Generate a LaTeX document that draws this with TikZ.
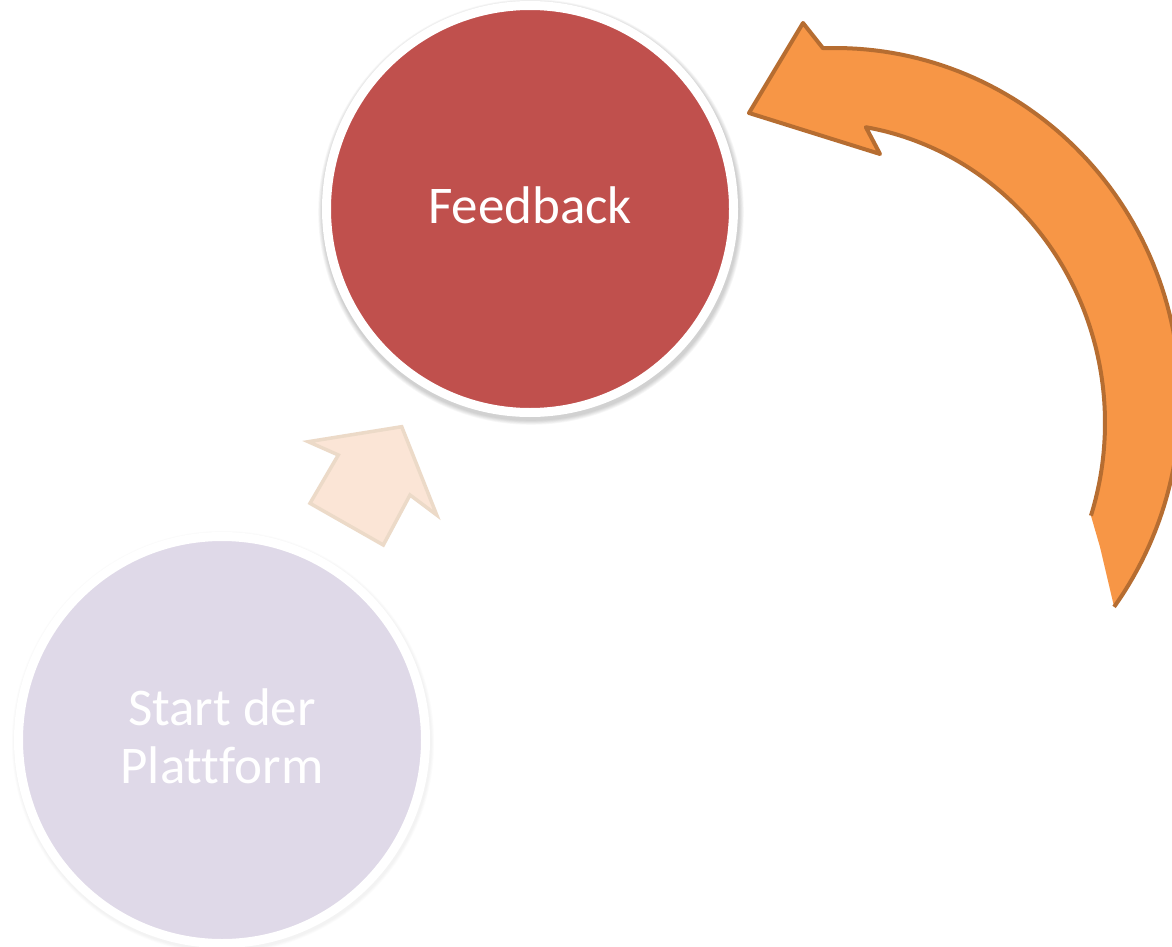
\documentclass[tikz,border=0pt]{standalone}
\usepackage{fontspec}
\setmainfont{Carlito}[RawFeature=-liga]
\definecolor{fbred}{RGB}{192,80,77}
\definecolor{lavender}{RGB}{223,217,232}
\definecolor{peachfill}{RGB}{251,229,214}
\definecolor{peachedge}{RGB}{236,218,200}
\definecolor{orfill}{RGB}{247,150,70}
\definecolor{oredge}{RGB}{182,109,49}
\begin{document}
\begin{tikzpicture}[x=1pt,y=-1pt,
  bubble/.style={circle, minimum size=407pt, inner sep=0pt, draw=white, line width=9pt,
    text=white, align=center, text depth=8pt, font=\fontsize{53}{58}\selectfont},
  shade ring/.style={black, opacity=0.03}]
\useasboundingbox (0,0) rectangle (1172,947);
\clip (0,0) rectangle (1172,947);
\fill[white] (0,0) rectangle (1172,947);
% soft shadows
\foreach \k in {1,...,6} {
  \fill[shade ring] (531,212) circle[radius={208pt+\k*0.8pt}];
}
\foreach \k in {1,...,4} {
  \fill[black, opacity=0.01] (223,742) circle[radius={208pt+\k*0.8pt}];
}
% circles
\node[bubble, fill=fbred] (feedback) at (530,209) {Feedback};
\node[bubble, fill=lavender] (start) at (222,740) {Start der\\Plattform};
% small arrow from start to feedback
\draw[draw=peachedge, fill=peachfill, line width=3.5pt, line join=miter]
  (401.7,426.7) -- (436.7,515) -- (410,495) -- (383.3,545) -- (310,503.3)
  -- (338.3,455) -- (308.3,441.7) -- cycle;
% big curved arrow
\fill[orfill] (866,127) -- (880,154) -- (749,113) -- (803,23)
  -- plot[domain=-92:36, samples=90] ({835+345*cos(\x)},{400+352*sin(\x)})
  -- (1100,547) -- plot[domain=18:-80.4, samples=90] ({818+287*cos(\x)},{423+300*sin(\x)}) -- cycle;
\draw[oredge, line width=4pt, line join=round]
  plot[domain=18:-80.4, samples=90] ({818+287*cos(\x)},{423+300*sin(\x)})
  -- (880,154) -- (749,113) -- (803,23)
  -- plot[domain=-92:36, samples=90] ({835+345*cos(\x)},{400+352*sin(\x)});
\end{tikzpicture}
\end{document}
